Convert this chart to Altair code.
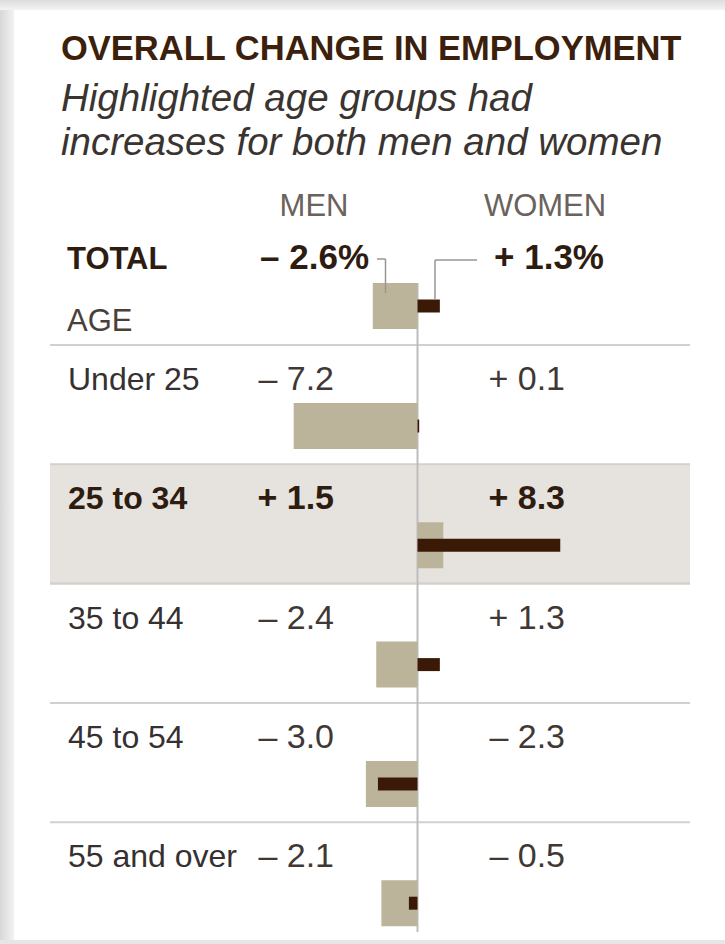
import altair as alt
import pandas as pd

# ---------------- data ----------------
groups = ["Under 25", "25 to 34", "35 to 44", "45 to 54", "55 and over"]
men = [-7.2, 1.5, -2.4, -3.0, -2.1]
women = [0.1, 8.3, 1.3, -2.3, -0.5]
highlight = [False, True, False, False, False]
total_men = -2.6
total_women = 1.3

title = "OVERALL CHANGE IN EMPLOYMENT"
subtitle = ["Highlighted age groups had", "increases for both men and women"]

# ---------------- layout ----------------
W, H = 725, 944
ZERO_X = 417.5
PX_PER_PT = 17.2
ROW_TOP = 345
ROW_H = 119.3
BAR_OFF = 81
LABEL_OFF = 45
MEN_H, WOMEN_H = 46, 13
TOTAL_BASE = 269
TOTAL_BAR = 306

FONT = "Liberation Sans"
MEN_COL = "#bbb49b"
WOMEN_COL = "#3a1a06"
TXT = "#3a2e27"


def fmt(v, pct=False):
    s = "\u2013" if v < 0 else "+"
    return f"{s} {abs(v):.1f}" + ("%" if pct else "")


rows = []
for i, g in enumerate(groups):
    top = ROW_TOP + i * ROW_H
    rows.append(dict(group=g, men=men[i], women=women[i], hl=highlight[i],
                     top=top, bottom=top + ROW_H, base=top + LABEL_OFF,
                     bar=top + BAR_OFF, men_lbl=fmt(men[i]), women_lbl=fmt(women[i]),
                     zero=0.0))
rows.append(dict(group="TOTAL", men=total_men, women=total_women, hl=False,
                 top=None, bottom=None, base=TOTAL_BASE, bar=TOTAL_BAR,
                 men_lbl=fmt(total_men, True), women_lbl=fmt(total_women, True),
                 zero=0.0))
df = pd.DataFrame(rows)
df["m_y1"] = df["bar"] - MEN_H / 2
df["m_y2"] = df["bar"] + MEN_H / 2
df["w_y1"] = df["bar"] - WOMEN_H / 2
df["w_y2"] = df["bar"] + WOMEN_H / 2

age = df[df.group != "TOTAL"]
tot = df[df.group == "TOTAL"]

xs = alt.Scale(domain=[-ZERO_X / PX_PER_PT, (W - ZERO_X) / PX_PER_PT], range=[0, W], nice=False, zero=False)
ys = alt.Scale(domain=[0, H], range=[0, H], nice=False, zero=False)

base = alt.Chart(df)
one = alt.Chart(pd.DataFrame({"k": [0]}))

# card shadow
shadow_left = one.mark_rect(color=alt.Gradient(gradient="linear", x1=0, x2=1, y1=0, y2=0,
                                               stops=[alt.GradientStop(offset=0, color="#d8d8d8"),
                                                      alt.GradientStop(offset=1, color="#f2f2f2")])).encode(
    x=alt.value(0), x2=alt.value(14), y=alt.value(0), y2=alt.value(H))
shadow_top = one.mark_rect(color=alt.Gradient(gradient="linear", x1=0, x2=0, y1=0, y2=1,
                                              stops=[alt.GradientStop(offset=0, color="#dcdcdc"),
                                                     alt.GradientStop(offset=1, color="#f4f4f4")])).encode(
    x=alt.value(0), x2=alt.value(W), y=alt.value(0), y2=alt.value(10))
shadow_bottom = one.mark_rect(color="#e6e6e6").encode(
    x=alt.value(0), x2=alt.value(W), y=alt.value(940), y2=alt.value(H))

band = alt.Chart(age).transform_filter("datum.hl").mark_rect(color="#e6e3de").encode(
    x=alt.value(50), x2=alt.value(690),
    y=alt.Y("top:Q", scale=ys, axis=None), y2="bottom:Q")

seps = alt.Chart(age).mark_rule(color="#d3d1ce", strokeWidth=2).encode(
    x=alt.value(50), x2=alt.value(690), y=alt.Y("top:Q", scale=ys, axis=None))
band_bottom = alt.Chart(age).transform_filter("datum.hl").mark_rule(color="#d3d1ce", strokeWidth=2).encode(
    x=alt.value(50), x2=alt.value(690), y=alt.Y("bottom:Q", scale=ys, axis=None))

zero_rule = one.mark_rule(color="#bdbdbd", strokeWidth=2).encode(
    x=alt.X("datum_zero:Q", scale=xs, axis=None), y=alt.value(283), y2=alt.value(932)
).transform_calculate(datum_zero="0")

men_bars = base.mark_rect(color=MEN_COL).encode(
    x=alt.X("zero:Q", scale=xs, axis=None), x2="men:Q",
    y=alt.Y("m_y1:Q", scale=ys, axis=None), y2="m_y2:Q")
women_bars = base.mark_rect(color=WOMEN_COL).encode(
    x=alt.X("zero:Q", scale=xs, axis=None), x2="women:Q",
    y=alt.Y("w_y1:Q", scale=ys, axis=None), y2="w_y2:Q")

# connectors for total labels
conn = pd.DataFrame({
    "x1": [377, 385.5, 435, 435], "x2": [385.5, 385.5, 477, 435],
    "y1": [259, 259, 260, 260], "y2": [259, 293, 260, 300]})
connectors = alt.Chart(conn).mark_rule(color="#9a9590", strokeWidth=1.5).encode(
    x=alt.X("x1:Q", scale=alt.Scale(domain=[0, W], range=[0, W]), axis=None), x2="x2:Q",
    y=alt.Y("y1:Q", scale=ys, axis=None), y2="y2:Q")


# texts
def txt(data, field, x, y_field, align="left", size=31, weight="normal", color=TXT, style="normal"):
    return alt.Chart(data).mark_text(align=align, baseline="alphabetic", font=FONT, fontSize=size,
                                     fontWeight=weight, fontStyle=style, color=color).encode(
        x=alt.value(x), y=alt.Y(f"{y_field}:Q", scale=ys, axis=None), text=f"{field}:N")


head = pd.DataFrame({"t": [title], "y": [60]})
sub = pd.DataFrame({"t": subtitle, "y": [111, 155]})
title_l = txt(head, "t", 61, "y", size=34.5, weight="bold", color="#3c1f0c")
sub_l = txt(sub, "t", 61, "y", size=38.5, style="italic", color="#3a3431")

hdr = pd.DataFrame({"t": ["MEN", "WOMEN"], "y": [216, 216]})
men_hdr = txt(hdr.iloc[[0]], "t", 314, "y", align="center", size=31, color="#6a625d")
women_hdr = txt(hdr.iloc[[1]], "t", 545, "y", align="center", size=31, color="#6a625d")

age_hdr = txt(pd.DataFrame({"t": ["AGE"], "y": [331]}), "t", 67, "y", size=31, color="#4a403a")

total_lbl = txt(tot, "group", 67, "base", size=31, weight="bold", color="#2e1c10")
total_m = txt(tot, "men_lbl", 369, "base", align="right", size=35, weight="bold", color="#2e1c10")
total_w = txt(tot, "women_lbl", 604, "base", align="right", size=35, weight="bold", color="#2e1c10")

age_n = age[~age.hl]
age_b = age[age.hl]
lbl_n = txt(age_n, "group", 68, "base", size=32, color="#363030")
lbl_b = txt(age_b, "group", 68, "base", size=32, weight="bold", color="#2e1c10")
mv_n = txt(age_n, "men_lbl", 334, "base", align="right", size=34, color="#3f3835")
mv_b = txt(age_b, "men_lbl", 334, "base", align="right", size=34, weight="bold", color="#2e1c10")
wv_n = txt(age_n, "women_lbl", 565, "base", align="right", size=34, color="#3f3835")
wv_b = txt(age_b, "women_lbl", 565, "base", align="right", size=34, weight="bold", color="#2e1c10")

chart = alt.layer(
    shadow_left, shadow_top, shadow_bottom, band, seps, band_bottom, zero_rule,
    men_bars, women_bars, connectors,
    title_l, sub_l, men_hdr, women_hdr, age_hdr, total_lbl, total_m, total_w,
    lbl_n, lbl_b, mv_n, mv_b, wv_n, wv_b,
).resolve_scale(x="independent").properties(
    width=W, height=H, padding=0, autosize=alt.AutoSizeParams(type="none"), background="white"
).configure_view(stroke=None)

chart.save("out.html", embed_options={"renderer": "svg", "actions": False})
